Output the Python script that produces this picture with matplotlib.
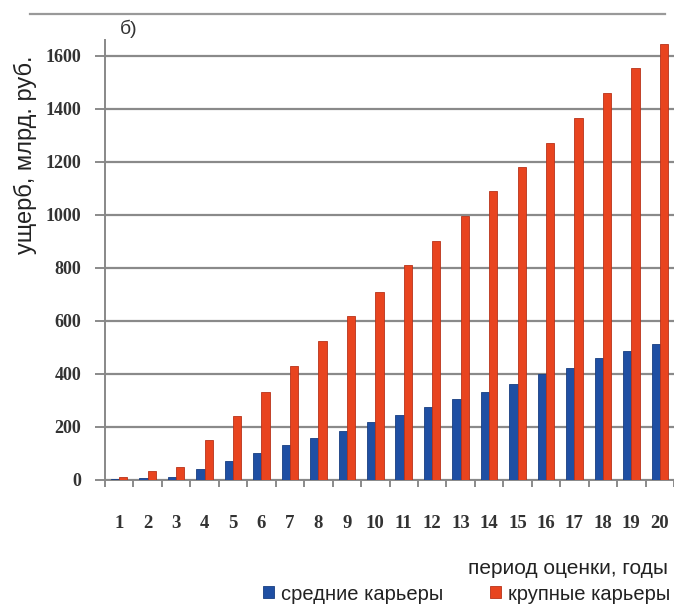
import matplotlib
matplotlib.use("Agg")
import matplotlib.pyplot as plt
import numpy as np

years = [str(i) for i in range(1, 21)]
medium = [3, 6, 12, 40, 73, 101, 132, 157, 186, 220, 245, 274, 305, 333, 361, 400, 423, 460, 485, 512]
large = [12, 35, 50, 150, 241, 333, 430, 525, 620, 710, 810, 900, 995, 1090, 1180, 1270, 1365, 1460, 1555, 1645]
yticks = [0, 200, 400, 600, 800, 1000, 1200, 1400, 1600]

fig = plt.figure(figsize=(6.74, 6.06), dpi=100)
ax = fig.add_axes([105/674, 126/606, 1 - 105/674, (480-40)/606])

x = np.arange(len(years))
w = 0.29
b1 = ax.bar(x - w/2, medium, w, color="#1f4fa3", edgecolor="#173d80", linewidth=0.6,
            label="средние карьеры", zorder=3)
b2 = ax.bar(x + w/2, large, w, color="#e8441f", edgecolor="#b8321a", linewidth=0.6,
            label="крупные карьеры", zorder=3)

ax.set_xlim(-0.5, len(years) - 0.5)
ax.set_ylim(0, 1660)
ax.set_yticks(yticks)
ax.set_yticklabels([str(v) for v in yticks], family="Liberation Serif", fontsize=13,
                   fontweight="bold", color="#333333")
ax.set_xticks(x)
ax.set_xticklabels(years, family="Liberation Serif", fontsize=13.5, fontweight="bold", color="#333333")
ax.set_xticks(np.arange(-0.5, len(years)), minor=True)
ax.tick_params(axis="x", which="major", length=0, pad=25)
ax.tick_params(axis="x", which="minor", length=5, width=1.2, color="#777777", direction="out")
ax.tick_params(axis="y", length=7, width=1.2, color="#777777", pad=10)

ax.yaxis.grid(True, color="#8a8a8a", linewidth=1.6, zorder=0)
for s in ["top", "right"]:
    ax.spines[s].set_visible(False)
ax.spines["left"].set_color("#888888")
ax.spines["left"].set_linewidth(1.4)
ax.spines["bottom"].set_color("#888888")
ax.spines["bottom"].set_linewidth(1.4)

fig.text(25/674, 1 - 155/606, "ущерб, млрд. руб.", rotation=90, ha="center", va="center",
         family="Liberation Sans", fontsize=17, color="#222222")
fig.text(120/674, 1 - 29/606, "б)", ha="left", va="center", family="Liberation Sans",
         fontsize=14, color="#333333")
fig.text(668/674, 1 - 568/606, "период оценки, годы", ha="right", va="center",
         family="Liberation Sans", fontsize=15, color="#222222")
fig.add_artist(plt.Line2D([30/674, 665/674], [1 - 14/606, 1 - 14/606], color="#999999", linewidth=1.6))

fig.legend(handles=[b1, b2], loc="center right", bbox_to_anchor=(670/674, 1 - 594/606),
           ncol=2, frameon=False, handlelength=0.55, handleheight=0.55, handletextpad=0.35,
           columnspacing=2.3, prop={"family": "Liberation Sans", "size": 14.5}, borderaxespad=0,
           borderpad=0, labelcolor="#222222")

fig.savefig("out.png", dpi=100)
